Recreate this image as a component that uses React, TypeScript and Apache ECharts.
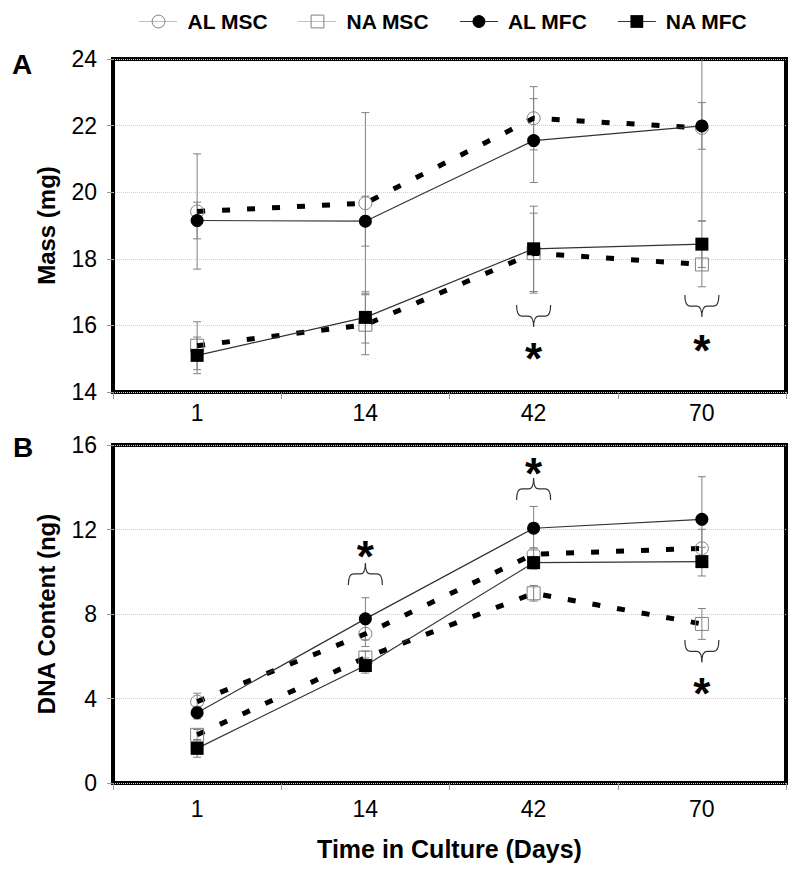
import React, { useEffect, useRef } from "react";
import * as echarts from "echarts";

// ---------- DATA ----------
const days = ["1", "14", "42", "70"];

// Panel A: Mass (mg)
const massALMSC = [19.42, 19.67, 22.22, 21.93];
const massALMSCErr = [1.73, 2.72, 0.95, 2.8];
const massALMFC = [19.15, 19.13, 21.55, 21.99];
const massALMFCErr = [0.55, 0.75, 1.26, 0.7];
const massNAMSC = [15.39, 16.02, 18.17, 17.83];
const massNAMSCErr = [0.72, 0.9, 1.2, 0.67];
const massNAMFC = [15.1, 16.24, 18.3, 18.44];
const massNAMFCErr = [0.55, 0.77, 1.28, 0.7];

// Panel B: DNA content (ng)
const dnaALMSC = [3.85, 7.06, 10.83, 11.11];
const dnaALMSCErr = [0.4, 0.6, 0.3, 0.9];
const dnaALMFC = [3.33, 7.77, 12.06, 12.48];
const dnaALMFCErr = [0.3, 1.0, 1.03, 2.02];
const dnaNAMSC = [2.28, 5.94, 8.98, 7.53];
const dnaNAMSCErr = [0.25, 0.3, 0.37, 0.73];
const dnaNAMFC = [1.64, 5.56, 10.43, 10.48];
const dnaNAMFCErr = [0.42, 0.36, 0.3, 0.68];

// Significance annotations: [day index, brace ends value, brace tip value, star value]
const massSignif = [
  [2, 16.61, 15.95, 15.26],
  [3, 16.91, 16.25, 15.5],
];
const dnaSignif = [
  [1, 9.37, 10.42, 11.13],
  [2, 13.4, 14.44, 15.05],
  [3, 6.77, 5.7, 4.64],
];

const massTicks = { min: 14, max: 24, interval: 2 };
const dnaTicks = { min: 0, max: 16, interval: 4 };

const names = ["AL MSC", "NA MSC", "AL MFC", "NA MFC"];

// ---------- STYLES ----------
const FONT = '"Liberation Sans", Arial, Helvetica, sans-serif';
const GRAY = "#808080";

function errData(vals: number[], errs: number[]) {
  return vals.map((v, i) => [i, v - errs[i], v + errs[i]]);
}

function lineSeries(name: string, data: number[], idx: number) {
  const isMSC = name.indexOf("MSC") >= 0;
  const isAL = name.indexOf("AL") === 0;
  return {
    name,
    type: "line",
    xAxisIndex: idx,
    yAxisIndex: idx,
    data,
    symbol: isAL ? "circle" : "rect",
    symbolSize: 13,
    silent: true,
    z: isMSC ? 3 : 4,
    lineStyle: isMSC
      ? { color: "#000", width: 5, type: [8, 17], cap: "butt" }
      : { color: "#333", width: 1.2, type: "solid" },
    itemStyle: isMSC
      ? { color: "rgba(0,0,0,0)", borderColor: GRAY, borderWidth: 1 }
      : { color: "#000", borderWidth: 0 },
    emphasis: { disabled: true },
  };
}

function errorSeries(data: number[][], idx: number) {
  return {
    type: "custom",
    xAxisIndex: idx,
    yAxisIndex: idx,
    data,
    clip: true,
    silent: true,
    z: 2,
    encode: { x: 0, y: [1, 2] },
    renderItem: (params: any, api: any) => {
      const x = api.value(0);
      const lo = api.coord([x, api.value(1)]);
      const hi = api.coord([x, api.value(2)]);
      const hw = 4;
      const st = { stroke: GRAY, lineWidth: 1 };
      return {
        type: "group",
        children: [
          { type: "line", shape: { x1: lo[0], y1: lo[1], x2: hi[0], y2: hi[1] }, style: st },
          { type: "line", shape: { x1: lo[0] - hw, y1: lo[1], x2: lo[0] + hw, y2: lo[1] }, style: st },
          { type: "line", shape: { x1: hi[0] - hw, y1: hi[1], x2: hi[0] + hw, y2: hi[1] }, style: st },
        ],
      };
    },
  };
}

function signifSeries(data: number[][], idx: number) {
  return {
    type: "custom",
    xAxisIndex: idx,
    yAxisIndex: idx,
    data,
    silent: true,
    z: 6,
    encode: { x: 0, y: [1, 2, 3] },
    renderItem: (params: any, api: any) => {
      const x = api.value(0);
      const b = api.coord([x, api.value(1)]);
      const t = api.coord([x, api.value(2)]);
      const s = api.coord([x, api.value(3)]);
      const cx = b[0];
      const w = 17;
      const yb = b[1];
      const yt = t[1];
      const ym = (yb + yt) / 2;
      const r = 5;
      const d =
        `M${cx - w},${yb} Q${cx - w},${ym} ${cx - w + r},${ym} L${cx - r},${ym} ` +
        `Q${cx},${ym} ${cx},${yt} Q${cx},${ym} ${cx + r},${ym} L${cx + w - r},${ym} ` +
        `Q${cx + w},${ym} ${cx + w},${yb}`;
      const fs = 44;
      return {
        type: "group",
        children: [
          {
            type: "path",
            shape: { pathData: d },
            style: { fill: "none", stroke: "#333", lineWidth: 1.2 },
          },
          {
            type: "text",
            x: s[0],
            y: s[1] + fs * 0.2,
            style: {
              text: "*",
              fontSize: fs,
              fontWeight: "bold",
              fontFamily: FONT,
              fill: "#000",
              align: "center",
              verticalAlign: "middle",
            },
          },
        ],
      };
    },
  };
}

function xAxis(idx: number, margin: number, withName: boolean) {
  return {
    type: "category",
    gridIndex: idx,
    data: days,
    boundaryGap: true,
    axisLine: { show: false },
    axisTick: { show: true, length: 7, lineStyle: { color: "#999", width: 1 } },
    axisLabel: { fontSize: 23, fontFamily: FONT, color: "#000", margin },
    splitLine: { show: false },
    name: withName ? "Time in Culture (Days)" : "",
    nameLocation: "middle",
    nameGap: 53,
    nameTextStyle: { fontSize: 25, fontWeight: "bold", fontFamily: FONT, color: "#000" },
  };
}

function yAxis(idx: number, ticks: any, name: string) {
  return {
    type: "value",
    gridIndex: idx,
    min: ticks.min,
    max: ticks.max,
    interval: ticks.interval,
    axisLine: { show: false },
    axisTick: { show: true, length: 6, lineStyle: { color: "#999", width: 1 } },
    axisLabel: { fontSize: 23, fontFamily: FONT, color: "#000", margin: 16 },
    splitLine: { show: true, lineStyle: { color: "#d0d0d0", type: "dotted", width: 1 } },
    name,
    nameLocation: "middle",
    nameRotate: 90,
    nameGap: 55,
    nameTextStyle: { fontSize: 24, fontWeight: "bold", fontFamily: FONT, color: "#000" },
  };
}

export default function App() {
  const ref = useRef<HTMLDivElement>(null);

  useEffect(() => {
    if (!ref.current) return;
    const chart = echarts.init(ref.current, undefined, { renderer: "svg" });

    const mass = [massALMSC, massNAMSC, massALMFC, massNAMFC];
    const dna = [dnaALMSC, dnaNAMSC, dnaALMFC, dnaNAMFC];

    const option: any = {
      animation: false,
      backgroundColor: "#fff",
      legend: {
        top: 6,
        left: 134,
        itemWidth: 38,
        itemHeight: 16,
        itemGap: 30,
        selectedMode: false,
        textStyle: { fontSize: 21, fontWeight: "bold", fontFamily: FONT, color: "#000", padding: [0, 0, 0, 5] },
        data: names.map((n) => {
          const isMSC = n.indexOf("MSC") >= 0;
          return {
            name: n,
            itemStyle: isMSC
              ? { color: "rgba(0,0,0,0)", borderColor: GRAY, borderWidth: 1 }
              : { color: "#000", borderWidth: 0 },
            lineStyle: isMSC
              ? { color: GRAY, width: 1, type: "dotted" }
              : { color: "#333", width: 1.2, type: "solid" },
          };
        }),
      },
      grid: [
        { left: 113, top: 59, width: 673, height: 333, show: true, borderColor: "#000", borderWidth: 4, backgroundColor: "transparent" },
        { left: 113, top: 445, width: 673, height: 338, show: true, borderColor: "#000", borderWidth: 4, backgroundColor: "transparent" },
      ],
      xAxis: [xAxis(0, 9, false), xAxis(1, 14, true)],
      yAxis: [yAxis(0, massTicks, "Mass (mg)"), yAxis(1, dnaTicks, "DNA Content (ng)")],
      graphic: [
        { type: "text", left: 12, top: 50, style: { text: "A", fontSize: 28, fontWeight: "bold", fontFamily: FONT, fill: "#000" } },
        { type: "text", left: 13, top: 433, style: { text: "B", fontSize: 28, fontWeight: "bold", fontFamily: FONT, fill: "#000" } },
      ],
      series: [
        errorSeries(errData(massALMSC, massALMSCErr), 0),
        errorSeries(errData(massALMFC, massALMFCErr), 0),
        errorSeries(errData(massNAMSC, massNAMSCErr), 0),
        errorSeries(errData(massNAMFC, massNAMFCErr), 0),
        errorSeries(errData(dnaALMSC, dnaALMSCErr), 1),
        errorSeries(errData(dnaALMFC, dnaALMFCErr), 1),
        errorSeries(errData(dnaNAMSC, dnaNAMSCErr), 1),
        errorSeries(errData(dnaNAMFC, dnaNAMFCErr), 1),
        ...names.map((n, i) => lineSeries(n, mass[i], 0)),
        ...names.map((n, i) => lineSeries(n, dna[i], 1)),
        signifSeries(massSignif, 0),
        signifSeries(dnaSignif, 1),
      ],
    };

    chart.setOption(option);
    return () => chart.dispose();
  }, []);

  return (
    <div
      ref={ref}
      style={{ position: "absolute", left: 0, top: 0, width: 800, height: 871, background: "#fff" }}
    />
  );
}
